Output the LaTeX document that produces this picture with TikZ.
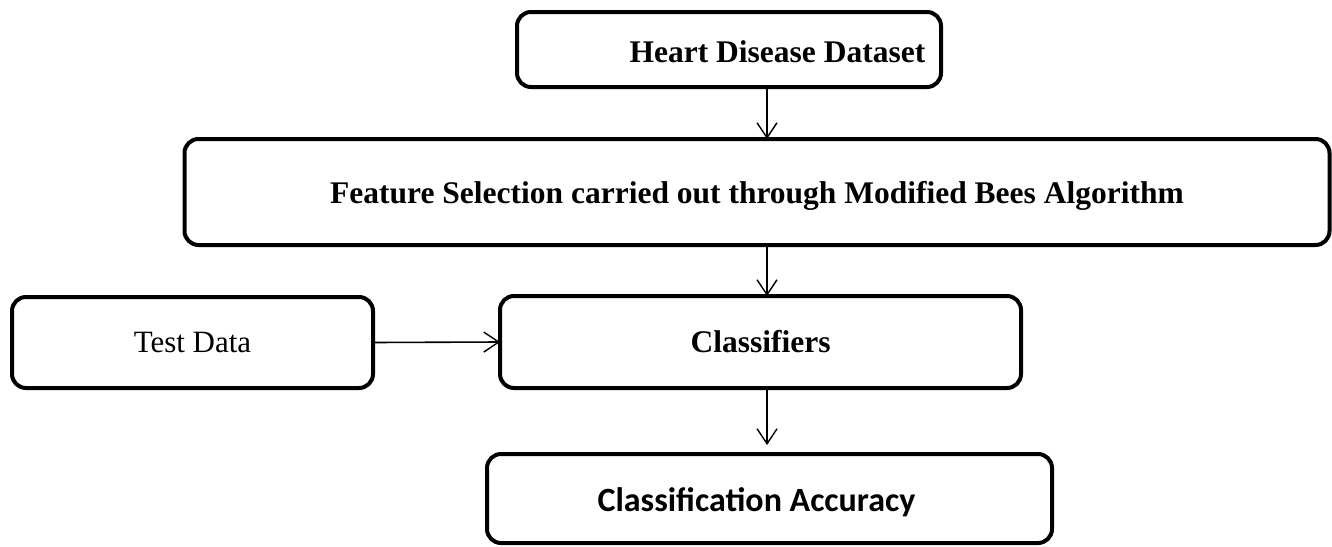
\documentclass[tikz,border=0pt]{standalone}
\usepackage{fontspec}
\setmainfont{Liberation Serif}
\newfontfamily\calibri{Carlito}
\usetikzlibrary{arrows.meta}
% lower a label without changing the box height that TikZ centres on
\newcommand{\lowerby}[2]{\raisebox{-#1}[\height][\depth]{#2}}
\begin{document}
\begin{tikzpicture}[x=1pt,y=-1pt,
  box/.style={draw, line width=4pt, rounded corners=14pt, inner sep=0pt, outer sep=0pt, align=center},
  flow/.style={line width=1.6pt, -{Straight Barb[length=15pt,width=20pt,line width=1.4pt]}}]
\useasboundingbox (0,0) rectangle (1332,546);
\coordinate (spine) at (767,0);
% process boxes
\node[box, minimum width=424pt, minimum height=75pt] (heart) at (729,49.5)
  {\fontsize{31.5}{34}\selectfont\bfseries\hspace*{97pt}\lowerby{2pt}{Heart Disease Dataset}};
\node[box, minimum width=1145pt, minimum height=106pt] (feat) at (757,192)
  {\fontsize{31.5}{34}\selectfont\bfseries\lowerby{4pt}{Feature Selection carried out through Modified Bees Algorithm}};
\node[box, minimum width=361pt, minimum height=91pt] (test) at (192.5,342.5)
  {\fontsize{31}{34}\selectfont Test Data};
\node[box, minimum width=521pt, minimum height=92pt] (cls) at (760.5,342)
  {\fontsize{31.5}{34}\selectfont\bfseries Classifiers};
\node[box, minimum width=565pt, minimum height=89pt] (acc) at (769.5,498.5)
  {\calibri\fontsize{34}{38}\selectfont\bfseries\hspace*{-26pt}\lowerby{4pt}{Classification Accuracy}};
% connectors
\draw[flow] (heart.south -| spine) -- (feat.north -| spine);
\draw[flow] (feat.south -| spine) -- (cls.north -| spine);
\draw[flow] (test.east) -- (cls.west);
\draw[flow, shorten >=9pt] (cls.south -| spine) -- (acc.north -| spine);
\end{tikzpicture}
\end{document}
